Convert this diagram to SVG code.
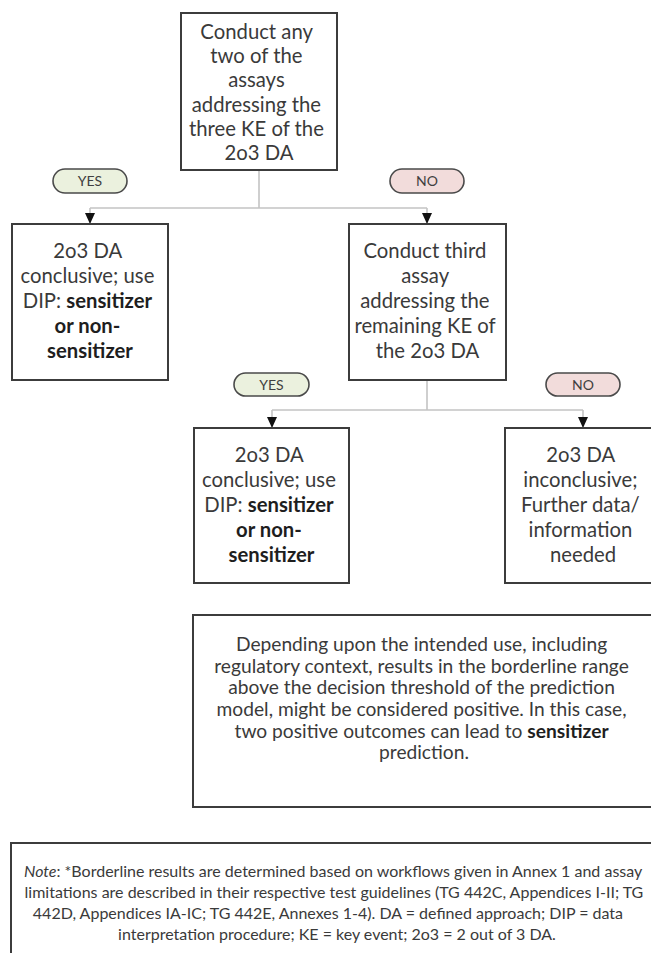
<svg xmlns="http://www.w3.org/2000/svg" width="651" height="953" viewBox="0 0 651 953">
  <style>
    .box { fill: #ffffff; stroke: #3c3c3c; stroke-width: 2; }
    .t { font-family: Lato, "Open Sans", sans-serif; fill: #3a3a3a; text-anchor: middle; }
    .node { font-size: 20.3px; }
    .para { font-size: 19.2px; }
    .note { font-size: 16px; }
    .b { font-weight: bold; fill: #1e1e1e; }
    .pill-yes { fill: #ebf1de; stroke: #4a4a4a; stroke-width: 1.6; }
    .pill-no { fill: #f2dcdb; stroke: #4a4a4a; stroke-width: 1.6; }
    .pill-t { font-family: Lato, "Open Sans", sans-serif; font-size: 14px; fill: #404040; text-anchor: middle; }
    .wire { fill: none; stroke: #c4c4c4; stroke-width: 1.6; }
  </style>
  <defs>
    <!-- arrowhead drawn along +x so orient="auto" turns it to follow each drop line -->
    <marker id="arrow" markerWidth="11" markerHeight="10" refX="11" refY="5" orient="auto" markerUnits="userSpaceOnUse" viewBox="0 0 11 10">
      <path d="M0,0 L11,5 L0,10 Z" fill="#111111"/>
    </marker>
  </defs>

  <rect width="651" height="953" fill="#ffffff"/>

  <!-- connectors -->
  <g id="connectors">
    <path class="wire" d="M259,170 V208 M90,208 H427"/>
    <path class="wire" d="M90,208 V224" marker-end="url(#arrow)"/>
    <path class="wire" d="M427,208 V224" marker-end="url(#arrow)"/>
    <path class="wire" d="M427,380 V410 M272,410 H583"/>
    <path class="wire" d="M272,410 V428" marker-end="url(#arrow)"/>
    <path class="wire" d="M583,410 V428" marker-end="url(#arrow)"/>
  </g>

  <!-- decision labels -->
  <g id="yes-1">
    <rect class="pill-yes" x="53" y="169" width="74" height="24" rx="12"/>
    <text class="pill-t" x="90" y="186">YES</text>
  </g>
  <g id="no-1">
    <rect class="pill-no" x="390" y="169" width="74" height="24" rx="12"/>
    <text class="pill-t" x="427" y="186">NO</text>
  </g>
  <g id="yes-2">
    <rect class="pill-yes" x="234" y="373" width="75" height="23" rx="11.5"/>
    <text class="pill-t" x="271.5" y="389.5">YES</text>
  </g>
  <g id="no-2">
    <rect class="pill-no" x="546" y="373" width="74" height="23" rx="11.5"/>
    <text class="pill-t" x="583" y="389.5">NO</text>
  </g>

  <!-- start -->
  <g id="conduct-two">
    <rect class="box" x="181" y="13" width="156" height="157"/>
    <text class="t node">
      <tspan x="259" y="39">Conduct any</tspan>
      <tspan x="259" y="63">two of the</tspan>
      <tspan x="259" y="87">assays</tspan>
      <tspan x="259" y="112">addressing the</tspan>
      <tspan x="259" y="136">three KE of the</tspan>
      <tspan x="259" y="160">2o3 DA</tspan>
    </text>
  </g>

  <g id="conclusive-1">
    <rect class="box" x="12" y="224" width="156" height="156"/>
    <text class="t node">
      <tspan x="90" y="258">2o3 DA</tspan>
      <tspan x="90" y="283">conclusive; use</tspan>
      <tspan x="90" y="308">DIP: <tspan class="b">sensitizer</tspan></tspan>
      <tspan x="90" y="333" class="b">or non-</tspan>
      <tspan x="90" y="358" class="b">sensitizer</tspan>
    </text>
  </g>

  <g id="conduct-third">
    <rect class="box" x="349" y="224" width="157" height="156"/>
    <text class="t node">
      <tspan x="427.5" y="258">Conduct third</tspan>
      <tspan x="427.5" y="283">assay</tspan>
      <tspan x="427.5" y="308">addressing the</tspan>
      <tspan x="427.5" y="333">remaining KE of</tspan>
      <tspan x="427.5" y="358">the 2o3 DA</tspan>
    </text>
  </g>

  <g id="conclusive-2">
    <rect class="box" x="194" y="428" width="155" height="155"/>
    <text class="t node">
      <tspan x="271.5" y="462">2o3 DA</tspan>
      <tspan x="271.5" y="487">conclusive; use</tspan>
      <tspan x="271.5" y="512">DIP: <tspan class="b">sensitizer</tspan></tspan>
      <tspan x="271.5" y="537" class="b">or non-</tspan>
      <tspan x="271.5" y="562" class="b">sensitizer</tspan>
    </text>
  </g>

  <g id="inconclusive">
    <rect class="box" x="505" y="428" width="156" height="155"/>
    <text class="t node">
      <tspan x="583" y="462">2o3 DA</tspan>
      <tspan x="583" y="487">inconclusive;</tspan>
      <tspan x="583" y="512">Further data/</tspan>
      <tspan x="583" y="537">information</tspan>
      <tspan x="583" y="562">needed</tspan>
    </text>
  </g>

  <!-- borderline remark -->
  <g id="borderline">
    <rect class="box" x="193" y="615" width="462" height="192"/>
    <text class="t para">
      <tspan x="424" y="651">Depending upon the intended use, including</tspan>
      <tspan x="424" y="673">regulatory context, results in the borderline range</tspan>
      <tspan x="424" y="694">above the decision threshold of the prediction</tspan>
      <tspan x="424" y="716">model, might be considered positive. In this case,</tspan>
      <tspan x="424" y="738">two positive outcomes can lead to <tspan class="b">sensitizer</tspan></tspan>
      <tspan x="424" y="759">prediction.</tspan>
    </text>
  </g>

  <!-- footnote -->
  <g id="note">
    <rect class="box" x="11" y="843" width="650" height="120"/>
    <text class="t note">
      <tspan x="335" y="877"><tspan font-style="italic">Note</tspan>: *Borderline results are determined based on workflows given in Annex 1 and assay</tspan>
      <tspan x="336" y="898">limitations are described in their respective test guidelines (TG 442C, Appendices I-II; TG</tspan>
      <tspan x="330" y="919">442D, Appendices IA-IC; TG 442E, Annexes 1-4). DA = defined approach; DIP = data</tspan>
      <tspan x="337" y="940">interpretation procedure; KE = key event; 2o3 = 2 out of 3 DA.</tspan>
    </text>
  </g>
</svg>
